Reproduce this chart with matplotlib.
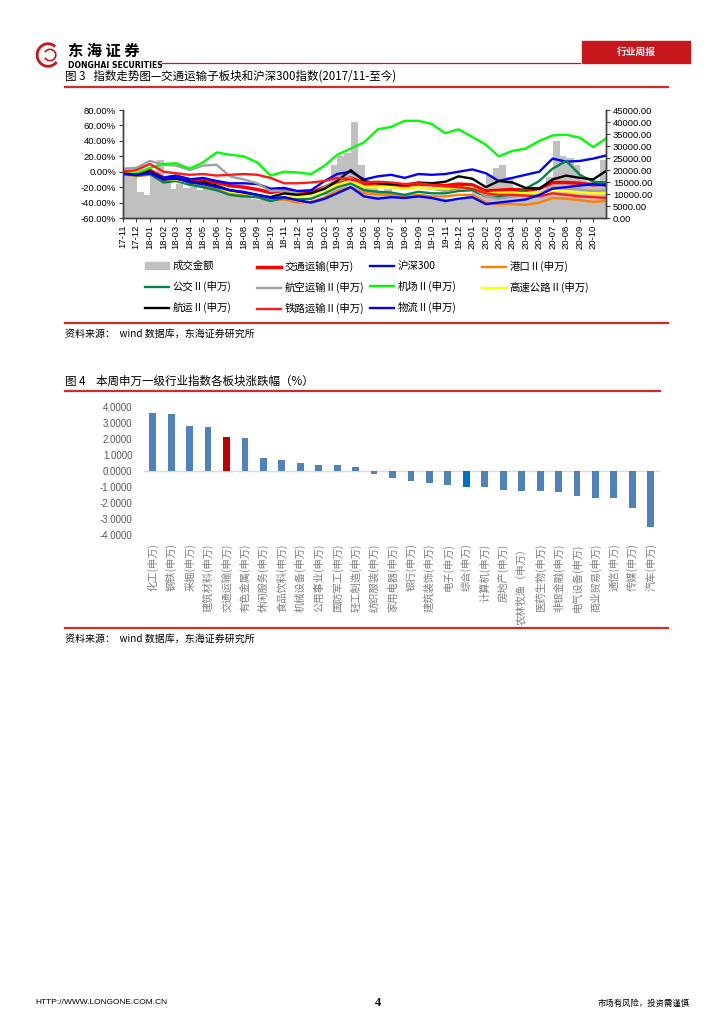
import numpy as np
import pandas as pd
import matplotlib
matplotlib.use('Agg')
import matplotlib.pyplot as plt
import matplotlib.dates as mdates
from matplotlib.lines import Line2D
from matplotlib.patches import Rectangle, Arc
from matplotlib.ticker import FuncFormatter, MultipleLocator

plt.rcParams['font.family'] = ['Noto Sans CJK SC', 'DejaVu Sans']

# ---- 图3: 指数走势 (月度读数, 相对2017/11涨跌 %) ----
dates = list(pd.date_range('2017-11-01', '2020-10-01', freq='MS')) + [pd.Timestamp('2020-10-30')]
jtys = [-1, -3, 2, -8, -6, -10, -11, -14, -18, -20, -23, -27, -24, -27, -27, -20, -13, -8, -15, -16,
        -17, -18, -16, -17, -18, -16, -17, -25, -24, -23, -24, -22, -14, -14, -15, -17, -16]
hs300 = [-2, -3, 0, -8, -5, -10, -8, -12, -15, -15, -16, -22, -21, -25, -24, -12, -3, 0, -10, -6,
         -4, -8, -3, -4, -3, 0, 3, -2, -12, -8, -4, 0, 17, 13, 14, 17, 21]
gangkou = [-3, -6, -4, -12, -12, -15, -18, -22, -27, -30, -33, -37, -36, -40, -39, -33, -25, -20, -28, -29,
           -30, -32, -30, -32, -32, -30, -30, -40, -42, -42, -43, -40, -34, -35, -37, -39, -38]
gongjiao = [-2, -5, -3, -14, -12, -17, -20, -24, -30, -32, -33, -38, -34, -36, -35, -28, -20, -15, -24, -26,
            -27, -30, -26, -28, -28, -25, -24, -32, -33, -30, -22, -12, 4, 14, -4, -13, -14]
hangkong = [4, 5, 14, 9, 8, 2, 8, 9, -6, -10, -15, -25, -25, -28, -30, -20, -12, -8, -20, -18,
            -20, -22, -20, -22, -25, -22, -20, -32, -35, -32, -30, -28, -20, -22, -23, -25, -24]
jichang = [0, -2, 5, 10, 11, 4, 12, 25, 22, 20, 12, -5, 0, -1, -3, 8, 22, 30, 38, 55,
           58, 66, 66, 62, 50, 55, 45, 35, 20, 27, 30, 40, 47, 48, 44, 32, 43]
gaosu = [-2, -3, -1, -10, -10, -14, -16, -20, -26, -28, -30, -33, -30, -32, -30, -24, -17, -12, -20, -20,
         -20, -22, -20, -22, -22, -20, -21, -28, -27, -27, -28, -28, -25, -25, -27, -28, -28]
hangyun = [-2, -4, 0, -10, -9, -13, -14, -18, -24, -27, -30, -33, -28, -30, -28, -22, -12, 2, -12, -15,
           -16, -17, -14, -15, -13, -6, -9, -20, -12, -14, -21, -22, -10, -5, -8, -10, 1]
tielu = [0, 2, 10, 0, -2, -4, -3, -5, -4, -3, -4, -8, -15, -15, -14, -12, -8, -10, -14, -13,
         -14, -16, -15, -17, -19, -20, -22, -28, -30, -30, -31, -32, -28, -30, -32, -33, -34]
wuliu = [-3, -4, -2, -10, -8, -14, -16, -20, -24, -26, -30, -34, -33, -37, -40, -35, -28, -20, -32, -35,
         -33, -34, -32, -34, -38, -35, -33, -42, -40, -38, -36, -30, -22, -20, -18, -16, -18]
# 成交金额 (右轴), 每半月一根: 上半月, 下半月
volume = [21000, 19000, 11000, 9500, 18000, 24000, 16000, 12000, 14000, 12500, 13000, 11500,
          12500, 12000, 11500, 10000, 9500, 9500, 8500, 8000, 7500, 7500, 7000, 8500,
          9000, 8500, 7500, 7000, 7500, 8500, 12000, 22000, 26000, 27000, 40000, 22000,
          14000, 13000, 11000, 12000, 10000, 9500, 9000, 9000, 10000, 9000, 8500, 8500,
          8000, 7500, 8500, 10000, 11000, 9000, 18000, 21000, 22000, 17000, 12000, 11000,
          10000, 10000, 11000, 17000, 32000, 26000, 25000, 22000, 16000, 15000, 14000, 24000]
vol_dates = [d + pd.Timedelta(days=h) for d in dates[:-1] for h in (0, 15)]

# ---- 图4: 本周申万一级行业涨跌幅 (%) ----
industry = ['化工(申万)', '钢铁(申万)', '采掘(申万)', '建筑材料(申万)', '交通运输(申万)', '有色金属(申万)',
            '休闲服务(申万)', '食品饮料(申万)', '机械设备(申万)', '公用事业(申万)', '国防军工(申万)',
            '轻工制造(申万)', '纺织服装(申万)', '家用电器(申万)', '银行(申万)', '建筑装饰(申万)', '电子(申万)',
            '综合(申万)', '计算机(申万)', '房地产(申万)', '农林牧渔（申万）', '医药生物(申万)', '非银金融(申万)',
            '电气设备(申万)', '商业贸易(申万)', '通信(申万)', '传媒(申万)', '汽车(申万)']
weekly_chg = [3.62, 3.58, 2.84, 2.74, 2.15, 2.08, 0.82, 0.69, 0.48, 0.40, 0.36, 0.23, -0.21, -0.44,
              -0.65, -0.74, -0.88, -0.97, -0.97, -1.18, -1.26, -1.26, -1.33, -1.58, -1.66, -1.66, -2.34, -3.49]

W, H = 724, 1024
fig = plt.figure(figsize=(W / 100, H / 100), dpi=100)


def fx(x):
    return x / W


def fy(y):
    return 1 - y / H


def hline(x0, x1, y, color='#d42a2a', lw=1.6):
    fig.add_artist(Line2D([fx(x0), fx(x1)], [fy(y), fy(y)], color=color, lw=lw, transform=fig.transFigure))


# ---- 页眉 ----
fig.add_artist(Arc((fx(48), fy(55)), 0.03, 0.022, theta1=40, theta2=330, color='#c8161d', lw=2,
                   transform=fig.transFigure))
fig.add_artist(Arc((fx(50), fy(55)), 0.016, 0.011, theta1=200, theta2=520, color='#c8161d', lw=1.2,
                   transform=fig.transFigure))
fig.text(fx(68), fy(51), '东 海 证 券', fontsize=11, fontweight='bold', va='center', ha='left')
fig.text(fx(68), fy(66), 'DONGHAI SECURITIES', fontsize=5.6, fontweight='bold', va='center', ha='left',
         family='DejaVu Sans')
hline(162, 580, 63, color='#c8161d', lw=0.9)
fig.add_artist(Rectangle((fx(582), fy(63)), fx(108), 22 / H, color='#c8161d', transform=fig.transFigure))
fig.text(fx(636), fy(52), '行业周报', fontsize=7, fontweight='bold', color='white', ha='center', va='center')

# ---- 图3 ----
fig.text(fx(65), fy(76), '图 3   指数走势图—交通运输子板块和沪深300指数(2017/11-至今)', fontsize=8.3,
         ha='left', va='center')
hline(65, 668, 87)

ax_v = fig.add_axes([fx(123), fy(218), fx(606 - 123), (218 - 110) / H])
ax_v.bar(vol_dates, volume, width=16.5, align='edge', color='#c0c0c0', linewidth=0, label='成交金额')
ax_v.set_ylim(0, 45000)

ax = ax_v.twinx()
ax.yaxis.tick_left()
ax_v.yaxis.tick_right()
ax_v.yaxis.set_major_locator(MultipleLocator(5000))
ax_v.yaxis.set_major_formatter(FuncFormatter(lambda v, p: f'{v:.2f}'))
series = [
    ('交通运输(申万)', jtys, '#ff0000', 2.5),
    ('沪深300', hs300, '#0000ff', 1.7),
    ('港口Ⅱ(申万)', gangkou, '#ff8000', 1.7),
    ('公交Ⅱ(申万)', gongjiao, '#00854a', 1.7),
    ('航空运输Ⅱ(申万)', hangkong, '#a0a0a0', 1.7),
    ('机场Ⅱ(申万)', jichang, '#00ff00', 1.7),
    ('高速公路Ⅱ(申万)', gaosu, '#ffff00', 1.7),
    ('航运Ⅱ(申万)', hangyun, '#000000', 1.7),
    ('铁路运输Ⅱ(申万)', tielu, '#ff1a1a', 1.7),
    ('物流Ⅱ(申万)', wuliu, '#0000ff', 1.7),
]
lines = {}
for name, vals, c, lw in series:
    lines[name], = ax.plot(dates, vals, color=c, lw=lw, label=name)
ax.set_ylim(-60, 80)
ax.yaxis.set_major_locator(MultipleLocator(20))
ax.yaxis.set_major_formatter(FuncFormatter(lambda v, p: f'{v:.2f}%'))
ax_v.set_xlim(pd.Timestamp('2017-11-01'), pd.Timestamp('2020-10-30'))
ax_v.xaxis.set_major_locator(mdates.MonthLocator())
ax_v.xaxis.set_major_formatter(mdates.DateFormatter('%y-%m'))

for a in (ax, ax_v):
    a.spines['top'].set_visible(False)
    for s in ('left', 'right', 'bottom'):
        a.spines[s].set_color('#404040')
        a.spines[s].set_linewidth(1)
    a.tick_params(axis='y', labelsize=6.8, length=3, width=0.8, color='#404040', pad=2)
    for t in a.get_yticklabels():
        t.set_family(['Liberation Sans', 'DejaVu Sans'])
ax_v.tick_params(axis='x', labelsize=6.8, length=3, width=0.8, color='#404040', pad=2, labelrotation=90)
for t in ax_v.get_xticklabels():
    t.set_family(['Liberation Sans', 'DejaVu Sans'])

# 图例: 4列, 与原图等宽列对齐
vol_handle = Rectangle((0, 0), 1, 1, color='#c0c0c0')
cols = [
    (145, [(vol_handle, '成交金额'), (lines['公交Ⅱ(申万)'], '公交Ⅱ(申万)'), (lines['航运Ⅱ(申万)'], '航运Ⅱ(申万)')]),
    (257, [(lines['交通运输(申万)'], '交通运输(申万)'), (lines['航空运输Ⅱ(申万)'], '航空运输Ⅱ(申万)'),
           (lines['铁路运输Ⅱ(申万)'], '铁路运输Ⅱ(申万)')]),
    (370, [(lines['沪深300'], '沪深300'), (lines['机场Ⅱ(申万)'], '机场Ⅱ(申万)'), (lines['物流Ⅱ(申万)'], '物流Ⅱ(申万)')]),
    (482, [(lines['港口Ⅱ(申万)'], '港口Ⅱ(申万)'), (lines['高速公路Ⅱ(申万)'], '高速公路Ⅱ(申万)')]),
]
for x0, items in cols:
    fig.legend([h for h, _ in items], [l for _, l in items], loc='upper left',
               bbox_to_anchor=(fx(x0), fy(261)), frameon=False, fontsize=7.5, borderpad=0,
               borderaxespad=0, handlelength=2.3, handletextpad=0.35, labelspacing=0.95, handleheight=0.6)

hline(65, 668, 323)
fig.text(fx(65), fy(334), '资料来源：  wind 数据库，东海证券研究所', fontsize=7.2, ha='left', va='center')

# ---- 图4 ----
fig.text(fx(65), fy(381), '图 4    本周申万一级行业指数各板块涨跌幅（%）', fontsize=8.3, ha='left', va='center')
hline(65, 660, 391)

bx = fig.add_axes([fx(143.5), fy(535), fx(660 - 143.5), (535 - 407) / H])
xpos = np.arange(len(industry))
colors = ['#4f81bd'] * len(industry)
colors[industry.index('交通运输(申万)')] = '#c00000'
colors[industry.index('综合(申万)')] = '#0070c0'
bx.bar(xpos, weekly_chg, width=0.37, color=colors, zorder=2)
bx.axhline(0, color='#d9d9d9', lw=1, zorder=1)
bx.set_ylim(-4, 4)
bx.set_xlim(-0.5, len(industry) - 0.5)
bx.yaxis.set_major_locator(MultipleLocator(1))
bx.yaxis.set_major_formatter(FuncFormatter(lambda v, p: f'{v:.4f}'))
for s in bx.spines.values():
    s.set_visible(False)
bx.set_xticks(xpos)
bx.set_xticklabels(industry, rotation=90, va='top', ha='center', fontsize=7.4, color='#7f7f7f')
bx.tick_params(axis='x', length=0, pad=6)
bx.tick_params(axis='y', length=0, labelsize=7, labelcolor='#595959', pad=8)
for t in bx.get_yticklabels():
    t.set_family(['Liberation Sans', 'DejaVu Sans'])

hline(65, 668, 628)
fig.text(fx(65), fy(639), '资料来源：  wind 数据库，东海证券研究所', fontsize=7.2, ha='left', va='center')

# ---- 页脚 ----
fig.text(fx(35), fy(1003), 'HTTP://WWW.LONGONE.COM.CN', fontsize=6, ha='left', va='center',
         family=['Liberation Sans', 'DejaVu Sans'])
fig.text(fx(378), fy(1003), '4', fontsize=9, fontweight='bold', ha='center', va='center',
         family=['Liberation Serif', 'DejaVu Serif'])
fig.text(fx(690), fy(1003), '市场有风险，投资需谨慎', fontsize=6, ha='right', va='center')

fig.savefig('out.png', dpi=100)
